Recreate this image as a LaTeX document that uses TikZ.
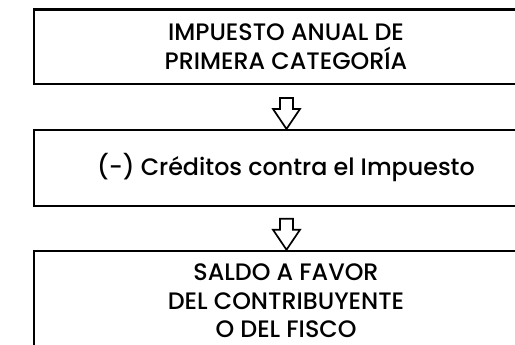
\documentclass[tikz,border=0pt]{standalone}
\usepackage{fontspec}
\setmainfont{Poppins}[UprightFont=* Medium]
\usetikzlibrary{shapes.arrows}

\begin{document}
\begin{tikzpicture}[x=1pt,y=1pt]
        \tikzset{box/.style={draw,line width=2.4pt,minimum width=504pt,inner sep=0pt,
            align=center,font=\fontsize{23.8}{28.3}\selectfont},
          downarrow/.style={draw,line width=1.7pt,shape=single arrow,shape border rotate=270,
            minimum height=31pt,minimum width=27pt,single arrow head extend=7pt,
            single arrow tip angle=68,inner sep=5.5pt}}
          \useasboundingbox (0,0) rectangle (515,-345);
          \clip (0,0) rectangle (515,-345);
          \node[box,minimum height=74.5pt] (tax) at (286,-46.75)
            {IMPUESTO ANUAL DE\\PRIMERA CATEGORÍA};
          \node[box,minimum height=76pt] (credits) at (286,-168)
            {(-) Créditos contra el Impuesto};
          \node[box,minimum height=100pt] (balance) at (286,-301)
            {SALDO A FAVOR\\DEL CONTRIBUYENTE\\O DEL FISCO};
          \node[downarrow] (taxtocredits) at (286.5,-108.7) {};
          \node[downarrow] (creditstobalance) at (286.5,-229.5) {};
      \end{tikzpicture}
\end{document}
